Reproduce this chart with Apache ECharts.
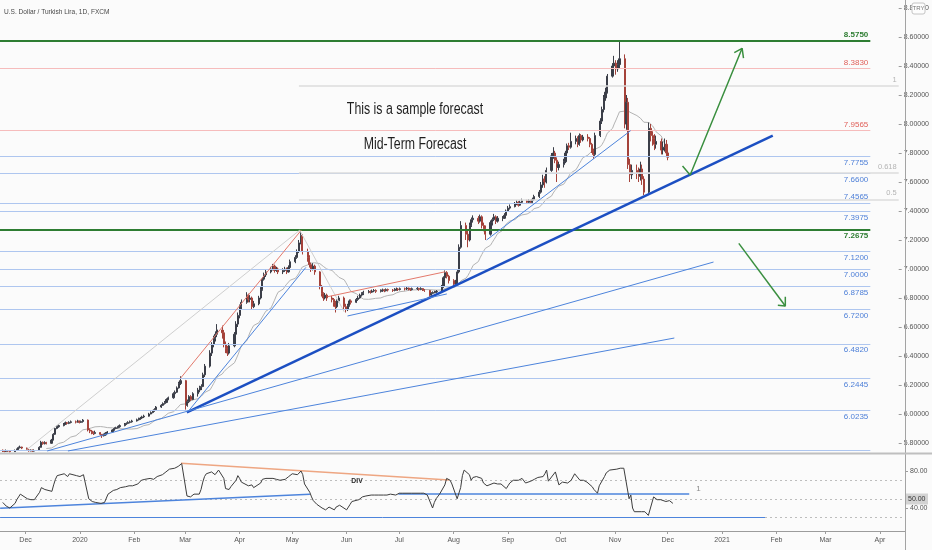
<!DOCTYPE html>
<html>
<head>
<meta charset="utf-8">
<script src="https://cdn.jsdelivr.net/npm/echarts@6/dist/echarts.min.js"></script>
<style>
html,body{margin:0;padding:0;background:#fbfbfb;}
#chart{width:932px;height:550px;}
</style>
</head>
<body>
<div id="chart"></div>
<script>
// ---------------- DATA ----------------
const firstDay = '2019-11-18';
const firstOpen = 5.750;

// daily closes, one row per week (Mon..Fri)
const closes = [
  5.745,5.742,5.748,5.744,5.740,
  5.748,5.755,5.768,5.772,5.765,
  5.752,5.746,5.750,5.744,5.748,
  5.770,5.805,5.795,5.802,5.798,
  5.820,5.860,5.900,5.912,5.920,
  5.930,5.940,5.935,5.942,5.946,
  5.944,5.952,5.942,5.948,5.958,
  5.890,5.882,5.870,5.866,5.872,
  5.860,5.850,5.856,5.868,5.876,
  5.890,5.900,5.905,5.912,5.920,
  5.930,5.935,5.942,5.946,5.952,
  5.960,5.966,5.972,5.980,5.985,
  6.000,6.010,6.020,6.030,6.048,
  6.060,6.072,6.080,6.100,6.112,
  6.140,6.150,6.180,6.210,6.230,
  6.060,6.085,6.120,6.100,6.140,
  6.165,6.180,6.190,6.270,6.330,
  6.420,6.480,6.520,6.550,6.580,
  6.560,6.480,6.450,6.420,6.470,
  6.550,6.620,6.680,6.740,6.770,
  6.820,6.790,6.800,6.740,6.760,
  6.800,6.860,6.930,6.960,6.980,
  7.000,7.020,6.990,7.000,6.980,
  6.990,7.000,6.980,7.010,7.050,
  7.080,7.120,7.180,7.230,7.120,
  7.080,7.030,7.000,7.020,6.980,
  6.880,6.830,6.800,6.820,6.800,
  6.790,6.770,6.740,6.780,6.800,
  6.740,6.720,6.750,6.780,6.770,
  6.790,6.800,6.820,6.830,6.840,
  6.845,6.840,6.848,6.852,6.846,
  6.850,6.856,6.850,6.858,6.855,
  6.852,6.858,6.862,6.858,6.864,
  6.862,6.868,6.862,6.858,6.864,
  6.866,6.860,6.865,6.858,6.852,
  6.820,6.832,6.838,6.842,6.846,
  6.880,6.940,6.975,6.950,6.920,
  6.895,6.910,6.980,7.150,7.300,
  7.240,7.200,7.300,7.340,7.350,
  7.330,7.360,7.300,7.280,7.240,
  7.320,7.340,7.360,7.330,7.350,
  7.350,7.370,7.400,7.420,7.430,
  7.450,7.460,7.440,7.460,7.470,
  7.460,7.470,7.460,7.480,7.500,
  7.530,7.580,7.620,7.600,7.680,
  7.780,7.800,7.750,7.700,7.720,
  7.740,7.800,7.850,7.840,7.880,
  7.900,7.860,7.920,7.890,7.910,
  7.900,7.860,7.820,7.790,7.920,
  8.020,8.100,8.180,8.220,8.330,
  8.400,8.420,8.380,8.410,8.450,
  8.000,8.150,7.720,7.650,7.680,
  7.660,7.640,7.690,7.620,7.530,
  7.970,7.920,7.900,7.860,7.880,
  7.820,7.840,7.860,7.800,7.770
];
const highs = [
  5.755,5.752,5.755,5.752,5.750,
  5.755,5.762,5.775,5.782,5.775,
  5.768,5.758,5.756,5.755,5.756,
  5.778,5.815,5.810,5.812,5.808,
  5.828,5.868,5.905,5.920,5.928,
  5.938,5.948,5.945,5.950,5.955,
  5.955,5.960,5.955,5.955,5.965,
  5.962,5.900,5.890,5.880,5.885,
  5.875,5.862,5.865,5.875,5.882,
  5.895,5.908,5.912,5.918,5.928,
  5.938,5.942,5.950,5.955,5.960,
  5.968,5.975,5.980,5.988,5.995,
  6.008,6.018,6.028,6.040,6.055,
  6.068,6.080,6.090,6.108,6.120,
  6.150,6.162,6.190,6.222,6.260,
  6.235,6.100,6.130,6.130,6.150,
  6.180,6.195,6.205,6.285,6.345,
  6.440,6.495,6.540,6.570,6.620,
  6.610,6.580,6.500,6.470,6.490,
  6.565,6.640,6.700,6.755,6.790,
  6.840,6.830,6.820,6.810,6.780,
  6.815,6.875,6.945,6.975,6.995,
  7.015,7.035,7.030,7.015,7.010,
  7.005,7.015,7.010,7.025,7.065,
  7.095,7.135,7.200,7.2675,7.240,
  7.140,7.095,7.045,7.040,7.030,
  6.985,6.890,6.840,6.835,6.830,
  6.815,6.800,6.780,6.790,6.815,
  6.810,6.760,6.760,6.790,6.790,
  6.800,6.815,6.830,6.840,6.850,
  6.855,6.852,6.858,6.862,6.860,
  6.860,6.865,6.862,6.866,6.865,
  6.862,6.868,6.872,6.868,6.872,
  6.872,6.876,6.872,6.868,6.872,
  6.875,6.870,6.874,6.868,6.862,
  6.856,6.840,6.846,6.850,6.855,
  6.890,6.950,6.990,6.985,6.960,
  6.930,6.925,6.995,7.170,7.330,
  7.320,7.270,7.320,7.355,7.370,
  7.365,7.375,7.370,7.320,7.300,
  7.335,7.355,7.380,7.370,7.365,
  7.365,7.385,7.410,7.435,7.445,
  7.462,7.475,7.468,7.472,7.485,
  7.478,7.482,7.478,7.492,7.512,
  7.545,7.600,7.650,7.640,7.700,
  7.800,7.840,7.815,7.770,7.740,
  7.760,7.815,7.865,7.870,7.940,
  7.920,7.915,7.935,7.930,7.925,
  7.930,7.910,7.870,7.830,7.940,
  8.040,8.120,8.200,8.250,8.345,
  8.420,8.470,8.440,8.440,8.575,
  8.480,8.200,8.180,7.760,7.720,
  7.720,7.700,7.740,7.720,7.640,
  8.010,8.000,7.950,7.930,7.920,
  7.900,7.880,7.900,7.890,7.820
];
const lows = [
  5.738,5.736,5.740,5.738,5.735,
  5.738,5.745,5.752,5.762,5.758,
  5.745,5.740,5.742,5.738,5.740,
  5.745,5.768,5.788,5.790,5.790,
  5.795,5.818,5.855,5.895,5.905,
  5.915,5.925,5.928,5.930,5.935,
  5.935,5.940,5.935,5.938,5.940,
  5.880,5.868,5.860,5.855,5.860,
  5.850,5.835,5.845,5.850,5.862,
  5.870,5.885,5.895,5.900,5.905,
  5.915,5.925,5.930,5.935,5.940,
  5.948,5.955,5.960,5.965,5.972,
  5.982,5.998,6.005,6.015,6.025,
  6.042,6.055,6.065,6.075,6.095,
  6.105,6.132,6.145,6.175,6.200,
  6.030,6.050,6.075,6.090,6.095,
  6.120,6.150,6.165,6.185,6.255,
  6.320,6.400,6.460,6.500,6.530,
  6.520,6.460,6.420,6.400,6.410,
  6.460,6.540,6.600,6.660,6.720,
  6.760,6.770,6.770,6.720,6.730,
  6.750,6.790,6.850,6.920,6.945,
  6.970,6.990,6.975,6.980,6.965,
  6.965,6.980,6.965,6.975,7.000,
  7.040,7.070,7.110,7.170,7.100,
  7.050,7.010,6.980,6.990,6.960,
  6.860,6.810,6.780,6.790,6.780,
  6.770,6.740,6.700,6.730,6.770,
  6.710,6.700,6.710,6.740,6.755,
  6.765,6.780,6.795,6.810,6.820,
  6.832,6.830,6.835,6.840,6.835,
  6.838,6.842,6.840,6.845,6.845,
  6.842,6.846,6.850,6.848,6.852,
  6.852,6.855,6.852,6.848,6.852,
  6.855,6.850,6.854,6.848,6.842,
  6.810,6.815,6.826,6.832,6.835,
  6.840,6.870,6.930,6.935,6.900,
  6.875,6.880,6.895,6.970,7.140,
  7.200,7.150,7.190,7.290,7.320,
  7.310,7.320,7.280,7.260,7.200,
  7.230,7.300,7.330,7.310,7.320,
  7.330,7.345,7.365,7.395,7.410,
  7.425,7.440,7.430,7.435,7.450,
  7.448,7.452,7.448,7.455,7.470,
  7.490,7.520,7.560,7.560,7.590,
  7.670,7.760,7.730,7.600,7.680,
  7.700,7.730,7.790,7.820,7.830,
  7.860,7.840,7.850,7.870,7.880,
  7.880,7.840,7.800,7.760,7.780,
  7.910,8.000,8.080,8.160,8.210,
  8.320,8.370,8.340,8.360,8.380,
  7.970,7.960,7.690,7.600,7.620,
  7.620,7.600,7.610,7.580,7.510,
  7.520,7.880,7.850,7.820,7.830,
  7.790,7.790,7.810,7.770,7.750
];
const rsiValues = [
  46,44,42,41,40,
  45,49,52,55,56,
  50,49,49,50,49,
  57,62,61,60,59,
  58,65,71,75,76,
  77,76,74,77,76,
  75,76,74,75,76,
  50,48,47,46,46,
  45,44,46,48,55,
  59,61,60,62,62,
  63,62,64,65,64,
  66,68,70,70,71,
  72,73,71,73,74,
  76,78,79,80,82,
  83,84,85,87,88,
  53,51,52,54,55,
  55,60,68,74,77,
  79,78,76,78,81,
  72,61,62,60,63,
  70,75,72,68,66,
  64,63,65,62,61,
  67,71,73,72,73,
  72,73,71,72,70,
  71,72,74,76,77,
  76,78,80,76,66,
  57,52,48,46,44,
  40,42,38,40,41,
  38,41,40,43,44,
  38,41,44,47,46,
  49,50,52,53,53,
  54,53,54,55,54,
  54,55,54,55,55,
  54,55,56,55,56,
  56,57,56,55,56,
  56,55,56,55,54,
  40,46,50,52,55,
  65,72,74,70,66,
  50,52,62,75,81,
  76,70,73,73,74,
  72,67,65,64,63,
  67,68,66,65,66,
  61,64,67,69,70,
  70,71,72,70,67,
  69,70,71,72,73,
  74,77,81,69,71,
  79,77,65,67,68,
  67,69,70,71,77,
  70,69,70,69,68,
  63,60,58,56,64,
  74,78,80,81,81,
  82,82,83,82,83,
  50,54,40,36,37,
  36,35,36,34,32,
  52,50,49,48,49,
  47,47,48,46,45
];

const priceTicks = [5.8,6.0,6.2,6.4,6.6,6.8,7.0,7.2,7.4,7.6,7.8,8.0,8.2,8.4,8.6,8.8];
const rsiTicks = [40, 80];
const monthStarts = ['2019-12-01','2020-01-01','2020-02-01','2020-03-01','2020-04-01','2020-05-01','2020-06-01','2020-07-01','2020-08-01','2020-09-01','2020-10-01','2020-11-01','2020-12-01','2021-01-01','2021-02-01','2021-03-01','2021-04-01'];
const monthLabels = ['Dec','2020','Feb','Mar','Apr','May','Jun','Jul','Aug','Sep','Oct','Nov','Dec','2021','Feb','Mar','Apr'];

// horizontal levels
const levelValues = [8.5750,8.3830,7.9565,7.7755,7.6600,7.4565,7.3975,7.2675,7.1200,7.0000,6.8785,6.7200,6.4820,6.2445,6.0235,5.7520];
const levelKinds  = ['green','red','red','blue','blue','blue','blue','green','blue','blue','blue','blue','blue','blue','blue','blue'];
const levelSides  = ['top','top','top','bottom','bottom','top','bottom','bottom','bottom','bottom','bottom','bottom','bottom','bottom','bottom','none'];
const levelEnd = '2021-03-30T00:00';

// fib levels (start at the May high, run to the right edge)
const fibValues = [8.262, 7.664, 7.480];
const fibLabels = ['1', '0.618', '0.5'];
const fibStart = '2020-05-06T00:00';

// trend lines: [date1, price1, date2, price2]
const trendLines = [
  ['2020-03-02T16:00', 6.012, '2021-02-02T00:00', 7.920],
  ['2019-12-13T12:00', 5.745, '2020-12-30T00:00', 7.048],
  ['2019-12-25T10:00', 5.745, '2020-12-07T12:00', 6.524],
  ['2020-03-03T16:00', 6.021, '2020-05-10T00:00', 7.011],
  ['2020-02-28T00:00', 6.246, '2020-05-07T08:00', 7.2675],
  ['2019-12-01T14:00', 5.752, '2020-05-06T10:00', 7.2675],
  ['2020-05-06T10:00', 7.2675, '2020-06-01T00:00', 6.705],
  ['2020-05-22T12:00', 6.809, '2020-07-29T00:00', 6.981],
  ['2020-06-02T22:00', 6.676, '2020-07-29T22:00', 6.828],
  ['2020-08-21T17:00', 7.200, '2020-11-12T10:00', 7.954]
];
const trendKinds = ['thick','thin','thin','thin','red','gray','gray','red','thin','thin'];

// forecast arrows (polylines)
const arrowUp = [['2020-12-12T05:00', 7.710], ['2020-12-16T14:00', 7.648], ['2021-01-15T10:00', 8.522]];
const arrowUpHead = [['2021-01-10T22:00', 8.492], ['2021-01-15T10:00', 8.522], ['2021-01-16T05:00', 8.455]];
const arrowDown = [['2021-01-13T12:00', 7.177], ['2021-02-09T05:00', 6.745]];
const arrowDownHead = [['2021-02-04T22:00', 6.750], ['2021-02-09T05:00', 6.745], ['2021-02-09T05:00', 6.809]];

// RSI drawings
const rsiDivLine = ['2020-02-27T14:00', 88.3, '2020-07-29T10:00', 70.3];
const rsiSupportLine = ['2019-11-16T12:00', 39.6, '2020-05-11T02:00', 54.8];
const rsiFlatLine = ['2020-06-30T12:00', 55.9, '2020-12-13T07:00', 55.9];
const rsiLowLine = ['2019-11-16T12:00', 30, '2021-01-25T12:00', 30];
const rsiBands = [70, 50, 30];

// ---------------- BUILD ----------------
const FONT = "'Liberation Sans',Arial,sans-serif";
const T = s => new Date(s.length === 10 ? s + 'T00:00:00' : s).getTime();
const xMin = T('2019-11-16T10:00');
const xMax = T('2021-04-15T07:00');

function tradingDays(start, n) {
  const out = [];
  const d = new Date(start + 'T00:00:00');
  while (out.length < n) {
    const wd = d.getDay();
    if (wd !== 0 && wd !== 6) out.push(d.getTime());
    d.setDate(d.getDate() + 1);
  }
  return out;
}
const days = tradingDays(firstDay, closes.length);
const candles = closes.map((c, i) => [days[i], i === 0 ? firstOpen : closes[i - 1], c, lows[i], highs[i]]);
const ma = closes.map((c, i) => {
  if (i < 19) return [days[i], null];
  let s = 0; for (let k = i - 19; k <= i; k++) s += closes[k];
  return [days[i], +(s / 20).toFixed(4)];
});
const rsi = rsiValues.map((v, i) => [days[i], v]);
const monthStartsT = monthStarts.map(T);

const C = {
  green: '#2e7d32', greenLabel: '#2e7d32',
  red: '#f6bcbc', redLabel: '#e0605a',
  blue: '#aec6ef', blueLabel: '#4f80d8',
  fib: '#dcdcdc', fibLabel: '#b4b4b4',
  thick: '#1c4fc2', thin: '#4d84dc', trRed: '#e3796c', gray: '#cfcfcf',
  arrow: '#3a8f3f'
};

const levelItems = levelValues.map((v, i) => {
  const k = levelKinds[i];
  const side = levelSides[i];
  return [{
    coord: [xMin, v],
    lineStyle: { color: C[k], width: k === 'green' ? 2 : 1, type: 'solid' },
    label: side === 'none' ? { show: false } : {
      show: true, position: side === 'top' ? 'insideEndTop' : 'insideEndBottom',
      formatter: v.toFixed(4), color: C[k + 'Label'], fontSize: 8, fontFamily: FONT, distance: 2,
      fontWeight: k === 'green' ? 'bold' : 'normal'
    }
  }, { coord: [T(levelEnd), v] }];
});
const fibItems = fibValues.map((v, i) => [{
  coord: [T(fibStart), v],
  lineStyle: { color: C.fib, width: 1.5, type: 'solid' },
  label: { show: true, position: 'insideEndTop', formatter: fibLabels[i], color: C.fibLabel, fontSize: 7.5, fontFamily: FONT, distance: 2 }
}, { coord: [xMax, v] }]);
const trendItems = trendLines.map((t, i) => {
  const k = trendKinds[i];
  const st = { thick: [C.thick, 2.5], thin: [C.thin, 1], red: [C.trRed, 1], gray: [C.gray, 1] }[k];
  return [{ coord: [T(t[0]), t[1]], lineStyle: { color: st[0], width: st[1], type: 'solid' }, label: { show: false } },
          { coord: [T(t[2]), t[3]] }];
});

const poly = (pts, name) => ({
  type: 'line', name, xAxisIndex: 0, yAxisIndex: 0, silent: true, symbol: 'none',
  data: pts.map(p => [T(p[0]), p[1]]),
  lineStyle: { color: C.arrow, width: 1.5 }, z: 6
});

const rsiSeg = (t, color, width, label) => [{
  coord: [T(t[0]), t[1]], lineStyle: { color, width, type: 'solid' },
  label: label ? { show: true, position: 'end', formatter: label, color: '#8a8a8a', fontSize: 8, fontFamily: FONT, offset: [2, -4] } : { show: false }
}, { coord: [T(t[2]), t[3]] }];

const rsiItems = rsiBands.map(v => ({ yAxis: v, lineStyle: { color: '#bdbdbd', width: 1, type: [2, 3] }, label: { show: false } }))
  .concat([
    rsiSeg(rsiLowLine, '#4d84dc', 1),
    rsiSeg(rsiDivLine, '#eea682', 1.5),
    rsiSeg(rsiSupportLine, '#4d84dc', 1.5),
    rsiSeg(rsiFlatLine, '#4d84dc', 1.5, '1')
  ]);

const chart = echarts.init(document.getElementById('chart'), null, { renderer: 'canvas' });
chart.setOption({
  animation: false,
  backgroundColor: '#fbfbfb',
  textStyle: { fontFamily: FONT },
  grid: [
    { left: 0, right: 27, top: 0, height: 452 },
    { left: 0, right: 27, top: 455, height: 76 }
  ],
  xAxis: [
    { type: 'value', gridIndex: 0, min: xMin, max: xMax, show: false, splitLine: { show: false } },
    { type: 'value', gridIndex: 1, min: xMin, max: xMax,
      axisLine: { show: true, lineStyle: { color: '#9c9c9c', width: 1 } },
      axisTick: { show: true, customValues: monthStartsT, length: 3, lineStyle: { color: '#9c9c9c' } },
      axisLabel: { customValues: monthStartsT, fontSize: 7, color: '#555', margin: 6, fontFamily: FONT,
        formatter: v => { const i = monthStartsT.indexOf(v); return i >= 0 ? monthLabels[i] : ''; } },
      splitLine: { show: false } }
  ],
  yAxis: [
    { type: 'value', gridIndex: 0, position: 'right', min: 5.7379, max: 8.8552,
      splitLine: { show: false }, axisLine: { show: false },
      axisTick: { show: true, customValues: priceTicks, length: 3, lineStyle: { color: '#9c9c9c' } },
      axisLabel: { customValues: priceTicks, formatter: v => v.toFixed(5), fontSize: 7, color: '#555', margin: 5, fontFamily: FONT } },
    { type: 'value', gridIndex: 1, position: 'right', min: 15.14, max: 97.30,
      splitLine: { show: false }, axisLine: { show: false },
      axisTick: { show: true, customValues: rsiTicks, length: 3, lineStyle: { color: '#9c9c9c' } },
      axisLabel: { customValues: rsiTicks, formatter: v => v.toFixed(2), fontSize: 7, color: '#555', margin: 5, fontFamily: FONT } }
  ],
  series: [
    { type: 'line', name: 'levels', xAxisIndex: 0, yAxisIndex: 0, data: ma, symbol: 'none', silent: true,
      lineStyle: { color: '#b3b3b3', width: 1 }, z: 3,
      markLine: { symbol: ['none', 'none'], silent: true, animation: false, precision: 4,
        data: levelItems.concat(fibItems, trendItems) } },
    { type: 'candlestick', name: 'USDTRY', xAxisIndex: 0, yAxisIndex: 0, data: candles, barWidth: 1.6, z: 4,
      itemStyle: { color: '#3b3e48', color0: '#a5423a', borderColor: '#3b3e48', borderColor0: '#a5423a', borderWidth: 1 } },
    poly(arrowUp, 'up'), poly(arrowUpHead, 'uph'), poly(arrowDown, 'down'), poly(arrowDownHead, 'downh'),
    { type: 'line', name: 'RSI', xAxisIndex: 1, yAxisIndex: 1, data: rsi, symbol: 'none', silent: true,
      lineStyle: { color: '#3d3d3d', width: 1 }, z: 5,
      markLine: { symbol: ['none', 'none'], silent: true, animation: false, data: rsiItems } }
  ],
  graphic: [
    { type: 'line', shape: { x1: 905.5, y1: 0, x2: 905.5, y2: 550 }, style: { stroke: '#a3a3a3', lineWidth: 1 }, z: 50 },
    { type: 'line', shape: { x1: 0, y1: 453.5, x2: 932, y2: 453.5 }, style: { stroke: '#bfbfbf', lineWidth: 2 }, z: 50 },
    { type: 'text', x: 4, y: 12, scaleX: 0.82, z: 50, style: { text: 'U.S. Dollar / Turkish Lira, 1D, FXCM', font: '8px ' + FONT, fill: '#4a4a4a', textVerticalAlign: 'middle' } },
    { type: 'text', x: 415, y: 110, scaleX: 0.77, z: 50, style: { text: 'This is a sample forecast', font: '16px ' + FONT, fill: '#1e1e1e', textAlign: 'center', textVerticalAlign: 'middle' } },
    { type: 'text', x: 415, y: 145, scaleX: 0.77, z: 50, style: { text: 'Mid-Term Forecast', font: '16px ' + FONT, fill: '#1e1e1e', textAlign: 'center', textVerticalAlign: 'middle' } },
    { type: 'text', x: 357, y: 481, scaleX: 0.85, z: 50, style: { text: 'DIV', font: 'bold 8px ' + FONT, fill: '#2a2a2a', textAlign: 'center', textVerticalAlign: 'middle' } },
    { type: 'rect', shape: { x: 912, y: 3, width: 13, height: 11, r: 2 }, style: { fill: '#fdfdfd', stroke: '#c4c4c4', lineWidth: 1 }, z: 60 },
    { type: 'text', x: 918.5, y: 8.5, z: 61, style: { text: 'TRY', font: '6px ' + FONT, fill: '#777', textAlign: 'center', textVerticalAlign: 'middle' } },
    { type: 'rect', shape: { x: 906, y: 493.5, width: 22, height: 11 }, style: { fill: '#d3d3d3' }, z: 60 },
    { type: 'text', x: 908, y: 499, z: 61, style: { text: '50.00', font: '7px ' + FONT, fill: '#333', textVerticalAlign: 'middle' } }
  ]
});
</script>
</body>
</html>
